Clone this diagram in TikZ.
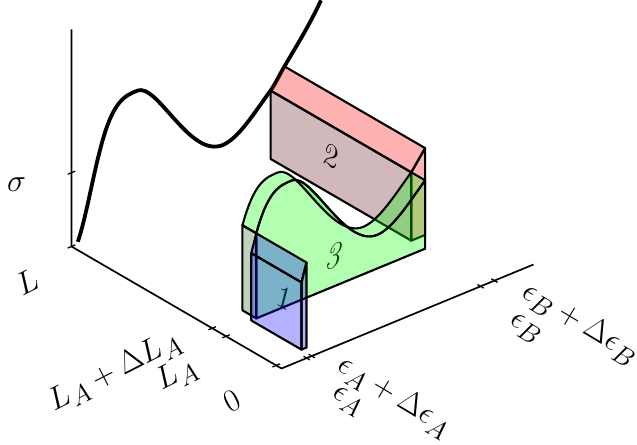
\documentclass[tikz,border=0pt]{standalone}
\usepackage{amsmath}
\definecolor{redside}{RGB}{100,20,30}
\definecolor{greenside}{RGB}{38,105,38}
\tikzset{
  axis/.style={line width=1.2pt},
  axtick/.style={line width=0.9pt},
  curve/.style={line width=2.7pt},
  boxedge/.style={draw=black, line width=1.5pt, line join=round},
  redface/.style={boxedge, fill=red, fill opacity=0.3},
  greenface/.style={boxedge, fill=green, fill opacity=0.3},
  blueface/.style={boxedge, fill=blue, fill opacity=0.3},
  digit/.style={font=\Huge, inner sep=0pt},
  lbl/.style={digit, scale=0.91},
}
% top edge of the green slab, front (L = L_A) forwards, back (L = L_A + dL_A) backwards
\newcommand{\frontcurve}{.. controls (1.67,2.64,5.956) and (2.14,2.64,5.93) .. (2.61,2.64,5.93)
  .. controls (3.4,2.64,5.93) and (4.7,2.64,1.8) .. (6,2.64,1.8)
  .. controls (6.633,2.64,1.8) and (7.267,2.64,2.703) .. (7.9,2.64,3.4)}
\newcommand{\backcurve}{.. controls (7.267,3.3,2.703) and (6.633,3.3,1.8) .. (6,3.3,1.8)
  .. controls (4.7,3.3,1.8) and (3.4,3.3,5.93) .. (2.61,3.3,5.93)
  .. controls (2.14,3.3,5.93) and (1.67,3.3,5.956) .. (1.2,3.3,4.17)}

\begin{document}
\begin{tikzpicture}[x={(0.63cm,0.26cm)}, y={(-0.525cm,0.305cm)}, z={(0cm,0.5425cm)}]
  \useasboundingbox (-7.0375cm,-1.9125cm) rectangle (8.8875cm,9.2125cm);
  % axes (eps, L, sigma)
  \draw[axis] (0,10,10) -- (0,10,0) -- (0,0,0) -- (10,0,0);
  \foreach \l in {0.25,2.64,3.3,10}
    \draw[axtick] (-0.15,\l,0) -- (0.15,\l,0);
  \foreach \e in {1,1.2,7.9,8.45}
    \draw[axtick] (\e,-0.15,0) -- (\e,0.15,0);
  \draw[axtick] (-0.15,10,3.4) -- (0.15,10,3.4);
  % axis labels
  \node[lbl] (sig) at (-2.18,10,3.9) {$\sigma$};
  \node[lbl, rotate=27] (Lmax) at (-2.45,9.18,0) {$L$};
  \node[lbl, rotate=27] (LAd) at (-4.0,3.13,0) {$L_A+\Delta L_A$};
  \node[lbl, rotate=27] (LA) at (-2.69,1.76,0) {$L_A$};
  \node[lbl, rotate=27] (Lzero) at (-2.44,-0.56,0) {$0$};
  \node[lbl, rotate=-31] (eAd) at (1.5,-3.56,0) {$\epsilon_A+\Delta\epsilon_A$};
  \node[lbl, rotate=-31] (eA) at (0.19,-2.88,0) {$\epsilon_A$};
  \node[lbl, rotate=-31] (eBd) at (8.73,-3.74,0) {$\epsilon_B+\Delta\epsilon_B$};
  \node[lbl, rotate=-31] (eB) at (7.21,-2.94,0) {$\epsilon_B$};
  % face numbers first, the faces tint them
  \node[digit, cm={0.866,-0.5,0,1,(0,0)}] (two) at (7.9,7.17,2.0) {\textit{2}};
  \node[digit, cm={0.925,0.381,0,1,(0,0)}] (three) at (4.28,2.64,1.62) {\textit{3}};
  \node[digit, cm={0.866,-0.5,0,1,(0,0)}] (one) at (1,1.19,2.17) {\textit{1}};
  % stress-strain curve in the back plane
  \draw[curve] (0.25,10,0.1) .. controls (0.5,10,0.8) and (0.75,10,2.225) .. (1,10,3.35)
    .. controls (1.0667,10,3.65) and (1.1333,10,3.917) .. (1.2,10,4.17)
    .. controls (1.67,10,5.956) and (2.14,10,5.93) .. (2.61,10,5.93)
    .. controls (3.4,10,5.93) and (4.7,10,1.8) .. (6,10,1.8)
    .. controls (6.633,10,1.8) and (7.267,10,2.703) .. (7.9,10,3.4)
    .. controls (8.083,10,3.602) and (8.267,10,3.975) .. (8.45,10,4.25)
    .. controls (8.933,10,4.975) and (9.417,10,5.633) .. (9.9,10,6.6);
  % block 2: eps_B .. eps_B+dB, L_A+dL_A .. L
  \path[redface, fill=redside] (7.9,3.3,0.25) -- (7.9,10,0.25) -- (7.9,10,3.4) -- (7.9,3.3,3.4) -- cycle;
  \path[redface] (7.9,3.3,0.25) -- (8.45,3.3,0.25) -- (8.45,3.3,4.25) -- (7.9,3.3,3.4) -- cycle;
  \path[redface] (7.9,3.3,3.4) -- (8.45,3.3,4.25) -- (8.45,10,4.25) -- (7.9,10,3.4) -- cycle;
  % block 3: the curved slab between A and B
  \path[greenface] (7.9,2.64,0.25) -- (1.2,2.64,0.25) -- (1.2,2.64,4.17) \frontcurve -- cycle;
  \path[greenface] (1.2,2.64,4.17) \frontcurve -- (7.9,3.3,3.4) \backcurve -- cycle;
  \path[greenface, fill=greenside] (1.2,2.64,0.25) -- (1.2,3.3,0.25) -- (1.2,3.3,4.17) -- (1.2,2.64,4.17) -- cycle;
  % block 1: eps_A .. eps_A+dA, 0 .. L_A
  \path[blueface] (1,0.25,0.25) -- (1,2.64,0.25) -- (1,2.64,3.35) -- (1,0.25,3.35) -- cycle;
  \path[blueface] (1,0.25,0.25) -- (1.2,0.25,0.25) -- (1.2,0.25,4.17) -- (1,0.25,3.35) -- cycle;
  \path[blueface] (1,0.25,3.35) -- (1.2,0.25,4.17) -- (1.2,2.64,4.17) -- (1,2.64,3.35) -- cycle;
\end{tikzpicture}
\end{document}
